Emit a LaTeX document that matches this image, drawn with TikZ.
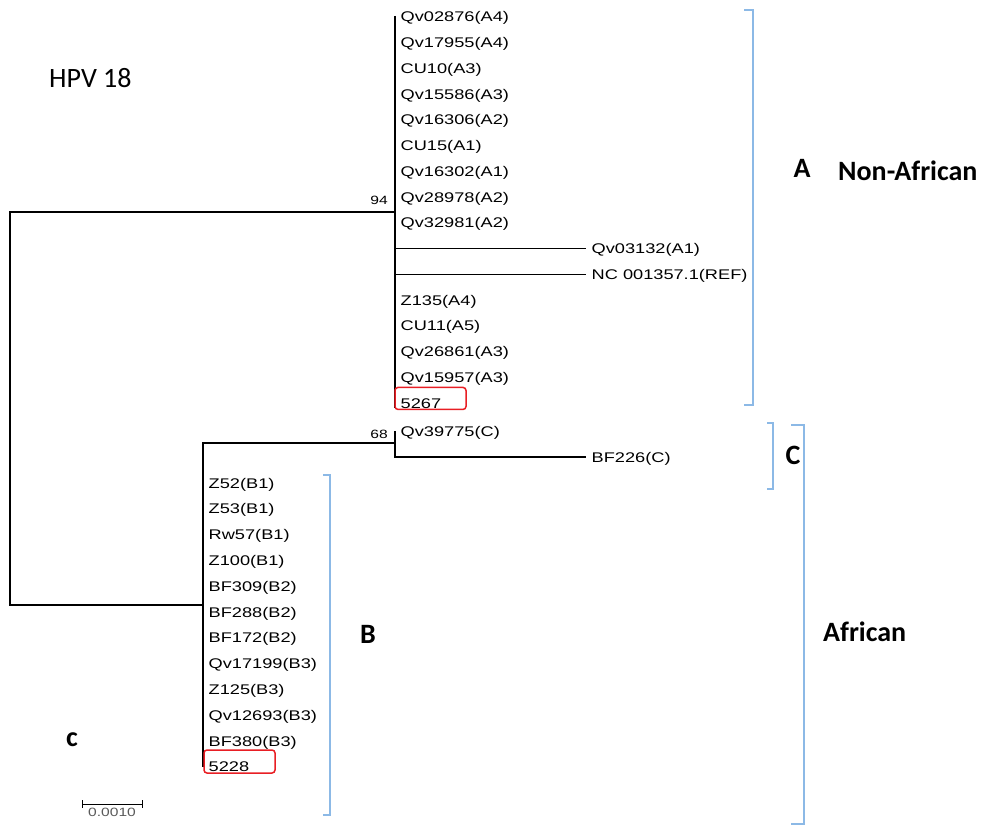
\documentclass[tikz,border=0pt]{standalone}
\usepackage{fontspec}
\setmainfont{Liberation Sans}
\newfontfamily\taxfont[FakeStretch=1.3]{Liberation Sans}
\newfontfamily\cladefont{Carlito}
\usetikzlibrary{positioning}

\definecolor{brackblue}{RGB}{140,185,230}
\definecolor{queryred}{RGB}{232,30,36}
\definecolor{scalegray}{RGB}{90,90,90}

\tikzset{
  branch/.style={line width=1.2pt, black},
  taxon/.style={anchor=west, inner xsep=5.5pt, inner ysep=0pt, text height=10pt, text depth=0pt,
    font=\taxfont\fontsize{14}{14}\selectfont},
  boot/.style={anchor=base east, inner sep=0pt, font=\taxfont\fontsize{12}{12}\selectfont},
  cladelabel/.style={inner sep=0pt, font=\cladefont\bfseries\fontsize{28}{28}\selectfont},
  brack/.style={brackblue, line width=1.8pt},
  query/.style={draw=queryred, line width=1.5pt, rounded corners=3pt}
}

\begin{document}
\begin{tikzpicture}[x=1pt, y=-1pt]
  \useasboundingbox (0,0) rectangle (983,826);

  % internal nodes
  \coordinate (root) at (10,408);
  \coordinate (A) at (395,212);
  \coordinate (Atop) at (395,16);
  \coordinate (Abot) at (395,408);
  \coordinate (BC) at (203,605);
  \coordinate (Bbot) at (203,767);
  \coordinate (C) at (395,443);

  % lineage A
  \foreach \name/\x [count=\i from 0] in {Qv02876(A4)/395, Qv17955(A4)/395, CU10(A3)/395,
      Qv15586(A3)/395, Qv16306(A2)/395, CU15(A1)/395, Qv16302(A1)/395, Qv28978(A2)/395,
      Qv32981(A2)/395, Qv03132(A1)/586, NC 001357.1(REF)/586, Z135(A4)/395, CU11(A5)/395,
      Qv26861(A3)/395, Qv15957(A3)/395, 5267/395}
    \node[taxon] (a\i) at (\x, 17+25.75*\i) {\name};

  % lineage C
  \node[taxon] (c0) at (395,431) {Qv39775(C)};
  \node[taxon] (c1) at (586,457) {BF226(C)};

  % lineage B
  \foreach \name [count=\i from 0] in {Z52(B1), Z53(B1), Rw57(B1), Z100(B1), BF309(B2),
      BF288(B2), BF172(B2), Qv17199(B3), Z125(B3), Qv12693(B3), BF380(B3), 5228}
    \node[taxon] (b\i) at (203, 483+25.8*\i) {\name};

  % tree
  \draw[branch] (A) -| (root) |- (BC);
  \draw[branch] (Atop) -- (Abot);
  \draw[branch] (a9.west -| Atop) -- (a9.west);
  \draw[branch] (a10.west -| Atop) -- (a10.west);
  \draw[branch] (C) -| (Bbot);
  \draw[branch] (c0.west) -- (c1.west -| C) -- (c1.west);

  \node[boot] (bs94) at (388,205) {94};
  \node[boot] (bs68) at (388,438) {68};

  % query samples
  \draw[query] (a15.south west) ++(0,1) rectangle ++(71,-22);
  \draw[query] (b11.south west) ++(1,1) rectangle ++(71,-23);

  % clade brackets
  \draw[brack] (744,10) -- (753,10) -- (753,405) -- (744,405);
  \draw[brack] (767,423) -- (773,423) -- (773,489) -- (767,489);
  \draw[brack] (791,425) -- (804,425) -- (804,824) -- (791,824);
  \draw[brack] (323,475) -- (330,475) -- (330,815) -- (323,815);

  \node[cladelabel] (labA) at (802,168) {A};
  \node[cladelabel, anchor=west] (nonafr) at (838,171) {Non-African};
  \node[cladelabel] (labC) at (793,455) {C};
  \node[cladelabel, anchor=west] (afr) at (823,632) {African};
  \node[cladelabel] (labB) at (368,634) {B};
  \node[cladelabel, font=\cladefont\fontsize{28}{28}\selectfont, anchor=west] (title) at (49,78) {HPV 18};
  \node[cladelabel] (panel) at (72,740) {c};

  % scale bar
  \coordinate (sbl) at (82,804);
  \coordinate (sbr) at (142,804);
  \draw[line width=1pt] (sbl) -- (sbr);
  \draw[line width=1pt] (sbl) ++(0,-4) -- ++(0,8);
  \draw[line width=1pt] (sbr) ++(0,-4) -- ++(0,8);
  \node[boot, anchor=north, text=scalegray] (sblab) at (112,808) {0.0010};
\end{tikzpicture}
\end{document}
